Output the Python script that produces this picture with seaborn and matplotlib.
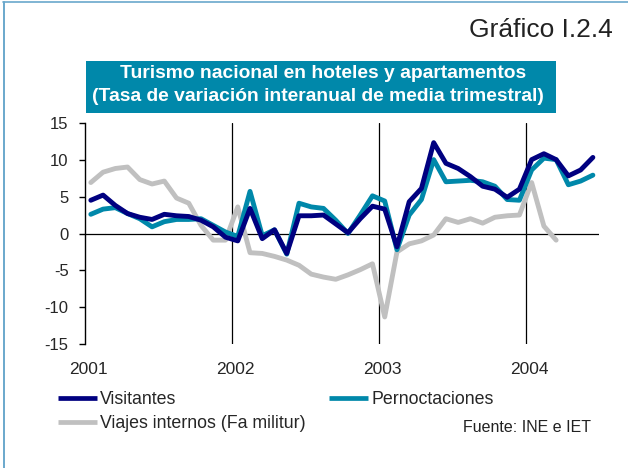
import numpy as np
import pandas as pd
import matplotlib
matplotlib.use("Agg")
import matplotlib.pyplot as plt
from matplotlib.patches import Rectangle
from matplotlib.lines import Line2D
from matplotlib.transforms import ScaledTranslation
import seaborn as sns

# ---------------- data (monthly, Jan 2001 = index 0) ----------------
visitantes = [4.5, 5.2, 3.8, 2.7, 2.2, 1.9, 2.6, 2.4, 2.3, 1.8, 0.9, -0.5,
              -1.0, 3.4, -0.7, 0.5, -2.7, 2.4, 2.4, 2.5, 1.3, 0.1, 2.0, 3.7,
              3.3, -1.8, 4.3, 6.1, 12.3, 9.5, 8.8, 7.7, 6.4, 6.0, 4.9, 6.0,
              10.0, 10.8, 10.0, 7.8, 8.6, 10.3]
pernoctaciones = [2.6, 3.3, 3.5, 2.7, 2.0, 0.9, 1.6, 1.9, 1.9, 2.0, 1.1, 0.2,
                  -0.4, 5.7, -0.3, 0.5, -2.8, 4.1, 3.6, 3.4, 1.8, 0.0, 2.5, 5.1,
                  4.4, -2.2, 2.5, 4.6, 10.0, 7.0, 7.1, 7.2, 7.0, 6.4, 4.6, 4.5,
                  8.6, 10.2, 10.0, 6.6, 7.1, 7.9]
viajes = [6.9, 8.3, 8.8, 9.0, 7.3, 6.7, 7.1, 4.8, 4.1, 1.1, -0.9, -0.9,
          3.6, -2.6, -2.7, -3.1, -3.6, -4.3, -5.5, -5.9, -6.2, -5.6, -4.9, -4.1,
          -11.3, -2.5, -1.4, -1.0, -0.2, 2.0, 1.5, 2.0, 1.4, 2.2, 2.4, 2.5,
          6.9, 1.0, -0.9]
year_labels = ["2001", "2002", "2003", "2004"]
y_ticks = [15, 10, 5, 0, -5, -10, -15]
series_names = ["Visitantes", "Pernoctaciones", "Viajes internos (Fa militur)"]
colors = {"Visitantes": "#000080", "Pernoctaciones": "#0088AA",
          "Viajes internos (Fa militur)": "#C0C0C0"}

frames = []
for name, vals in zip(series_names, [visitantes, pernoctaciones, viajes]):
    frames.append(pd.DataFrame({"mes": np.arange(len(vals)) + 0.5,
                                "valor": vals, "serie": name}))
df = pd.concat(frames, ignore_index=True)

# ---------------- figure ----------------
sns.set_style("white")
plt.rcParams["font.family"] = ["Liberation Sans", "DejaVu Sans"]

W, H = 628, 468
fig = plt.figure(figsize=(W / 100, H / 100), dpi=100)

def fx(px):
    return px / W

def fy(py):
    return 1 - py / H

ax = fig.add_axes([fx(84.7), fy(344.3), fx(599) - fx(84.7), fy(122.7) - fy(344.3)])
ax.set_facecolor("none")

# reference lines
ax.axhline(0, color="black", lw=0.9, zorder=1)
for xv in [12, 24, 36]:
    ax.axvline(xv, color="black", lw=0.9, zorder=1)

sns.lineplot(data=df, x="mes", y="valor", hue="serie", palette=colors,
             hue_order=[series_names[2], series_names[1], series_names[0]],
             lw=3.5, ax=ax, legend=False, zorder=3)

ax.set_xlim(0, 42)
ax.set_ylim(-15, 15)
ax.set_xlabel("")
ax.set_ylabel("")
ax.set_xticks([0, 12, 24, 36])
ax.set_xticklabels(year_labels, fontsize=12.5)
ax.tick_params(axis="x", length=0, pad=12.5)
ax.set_yticks(y_ticks)
ax.set_yticklabels([str(v) for v in y_ticks], fontsize=12)
ax.tick_params(axis="y", direction="out", length=4.5, width=1, color="black",
               pad=7, left=True)
for lab in ax.get_xticklabels():
    lab.set_transform(lab.get_transform() + ScaledTranslation(4 / 100, 0, fig.dpi_scale_trans))
for s in ["top", "right", "bottom"]:
    ax.spines[s].set_visible(False)
ax.spines["left"].set_color("black")
ax.spines["left"].set_linewidth(1)

# ---------------- titles ----------------
fig.text(fx(612.7), fy(37.3), "Gráfico I.2.4", ha="right", va="baseline",
         fontsize=19, color="#222222")
fig.add_artist(Rectangle((fx(86), fy(112.5)), fx(556) - fx(86), fy(61) - fy(112.5),
                         transform=fig.transFigure, facecolor="#0088AA",
                         edgecolor="none"))
fig.text(fx(323), fy(73.5), "Turismo nacional en hoteles y apartamentos",
         ha="center", va="center", fontsize=13.9, fontweight="bold", color="white")
fig.text(fx(318), fy(96.5), "(Tasa de variación interanual de media trimestral)",
         ha="center", va="center", fontsize=13.9, fontweight="bold", color="white")

# ---------------- legend ----------------
leg_fs = 12.8
fs_px = leg_fs * 100 / 72
renderer = fig.canvas.get_renderer()
tmp = fig.text(0, 0, series_names[2], fontsize=leg_fs)
w_long = tmp.get_window_extent(renderer).width
tmp.remove()
handle_px = 38.5
pad_px = 3.5
colspacing = (271 - handle_px - pad_px - w_long) / fs_px

handles = [Line2D([], [], color=colors[n], lw=3.4, solid_capstyle="butt") for n in
           [series_names[0], series_names[2], series_names[1]]]
labels = [series_names[0], series_names[2], series_names[1]]
fig.legend(handles, labels, loc="upper left",
           bbox_to_anchor=(fx(58.3), fy(391)), ncol=2, frameon=False,
           fontsize=leg_fs, borderpad=0, borderaxespad=0,
           handlelength=handle_px / fs_px, handletextpad=pad_px / fs_px,
           columnspacing=colspacing, labelspacing=0.38)

fig.text(fx(462.7), fy(427), "Fuente: INE e IET", ha="left", va="center",
         fontsize=11.5, color="#222222")

# ---------------- outer frame (top and left edges) ----------------
fig.add_artist(Line2D([fx(3.5), 1], [fy(1.5), fy(1.5)], transform=fig.transFigure,
                      color="#6aa8cc", lw=1.2))
fig.add_artist(Line2D([fx(3.8), fx(3.8)], [fy(1.5), 0], transform=fig.transFigure,
                      color="#6aa8cc", lw=1.4))

fig.savefig("out.png", dpi=100)
